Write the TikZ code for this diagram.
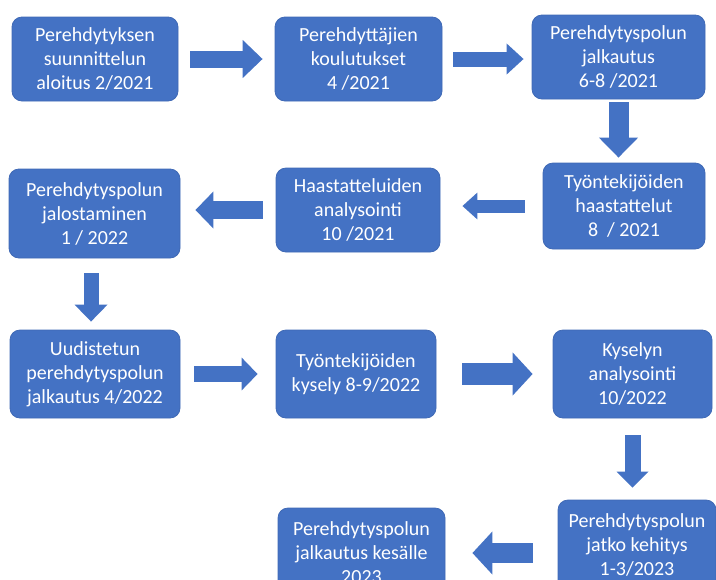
\documentclass[tikz,border=0pt]{standalone}
\usepackage{fontspec}
\setmainfont{Carlito}
\usetikzlibrary{arrows.meta}

\definecolor{boxblue}{HTML}{4472C4}
\definecolor{edgeblue}{HTML}{3F69B5}

\begin{document}
\begin{tikzpicture}[x=0.75pt, y=-0.75pt,
    stage/.style={draw=edgeblue, line width=0.6pt, fill=boxblue, rounded corners=7.5pt, text=white, align=center, inner sep=0pt,
        font=\fontsize{15pt}{18pt}\selectfont},
    flow/.style n args={3}{draw=boxblue, line width=#1, -{Triangle[width=#2, length=#3]}}]
    \useasboundingbox (0,0) rectangle (716,579);
    \clip (0,0) rectangle (716,579);

    % first row
    \node[stage, minimum width=124.5pt, minimum height=63pt] (b1) at (95,59) {Perehdytyksen\\suunnittelun\\aloitus 2/2021};
    \node[stage, minimum width=125.25pt, minimum height=63pt] (b2) at (358.5,59) {Perehdyttäjien\\koulutukset\\4 /2021};
    \node[stage, minimum width=129.75pt, minimum height=63pt] (b3) at (618.5,57) {Perehdytyspolun\\jalkautus\\6-8 /2021};

    % second row
    \node[stage, minimum width=121.5pt, minimum height=64.5pt] (b4) at (624,206) {Työntekijöiden\\haastattelut\\8\ \ / 2021};
    \node[stage, minimum width=123pt, minimum height=63pt] (b5) at (358,210) {Haastatteluiden\\analysointi\\10 /2021};
    \node[stage, minimum width=128.25pt, minimum height=66.75pt] (b6) at (94.5,213.5) {Perehdytyspolun\\jalostaminen\\1 / 2022};

    % third row
    \node[stage, minimum width=127.5pt, minimum height=66pt] (b7) at (95,374) {Uudistetun\\perehdytyspolun\\jalkautus 4/2022};
    \node[stage, minimum width=120pt, minimum height=66pt] (b8) at (356,374) {Työntekijöiden\\kysely 8-9/2022};
    \node[stage, minimum width=119.25pt, minimum height=66pt] (b9) at (632.5,374) {Kyselyn\\analysointi\\10/2022};

    % last row
    \node[stage, minimum width=118.5pt, minimum height=67.5pt] (b10) at (637,545) {Perehdytyspolun\\jatko kehitys\\1-3/2023};
    \node[stage, minimum width=125.25pt, minimum height=67.5pt] (b11) at (361.5,553) {Perehdytyspolun\\jalkautus kesälle\\2023};

    \draw[flow={12.75pt}{27.75pt}{15pt}, shorten <=9pt, shorten >=9pt] (b1.east) -- (b1.east -| b2.west);
    \draw[flow={11.25pt}{22.5pt}{12.75pt}, shorten <=8.25pt, shorten >=6pt] (b2.east) -- (b2.east -| b3.west);
    \draw[flow={15pt}{28.5pt}{15pt}, shorten <=2.25pt, shorten >=3.75pt] (b3.south) -- (b3.south |- b4.north);
    \draw[flow={9.75pt}{19.5pt}{11.25pt}, shorten <=13.5pt, shorten >=16.5pt] (b4.west) -- (b4.west -| b5.east);
    \draw[flow={13.5pt}{27pt}{13.5pt}, shorten <=9.75pt, shorten >=11.25pt] (b5.west) -- (b5.west -| b6.east);
    \draw[flow={11.25pt}{24pt}{12.75pt}, shorten <=11.25pt, shorten >=6pt] ([xshift=-2.6pt]b6.south) -- ([xshift=-2.6pt]b6.south |- b7.north);
    \draw[flow={12pt}{24pt}{12pt}, shorten <=10.5pt, shorten >=13.5pt] (b7.east) -- (b7.east -| b8.west);
    \draw[flow={16.5pt}{31.5pt}{15pt}, shorten <=19.5pt, shorten >=15pt] (b8.east) -- (b8.east -| b9.west);
    \draw[flow={12pt}{23.25pt}{12pt}, shorten <=12.75pt, shorten >=9pt] (b9.south) -- (b9.south |- b10.north);
    \draw[flow={15pt}{31.5pt}{15pt}, shorten <=18.75pt, shorten >=20.25pt] (b10.west |- b11.east) -- (b11.east);
\end{tikzpicture}
\end{document}
